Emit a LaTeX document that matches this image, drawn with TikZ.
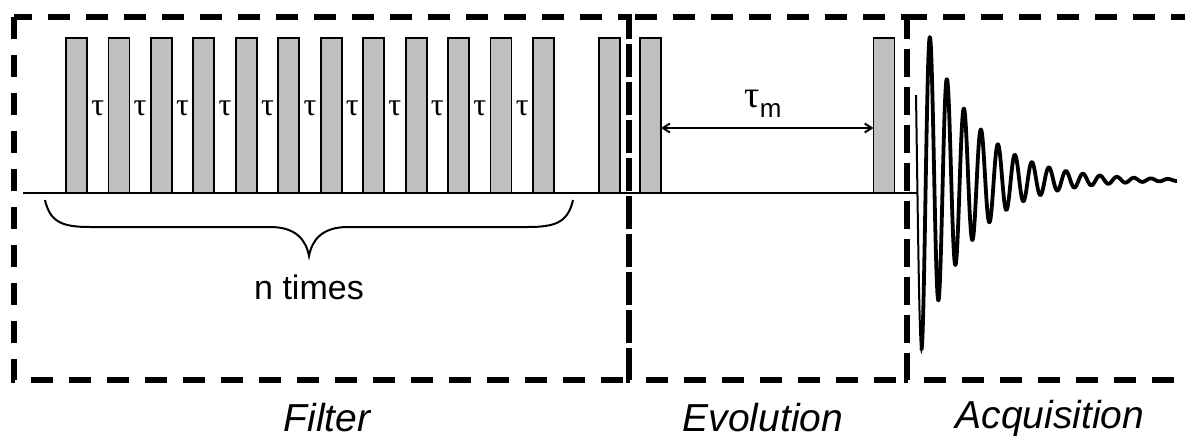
\documentclass[tikz,border=0pt]{standalone}
\usepackage{fontspec}
\setmainfont{Liberation Sans}
\newfontfamily\greekfont{Liberation Serif}
\usetikzlibrary{arrows.meta}
\tikzset{
  pulse/.style={draw=black, line width=1.8pt, fill=black!25, minimum width=21pt, minimum height=155pt, anchor=south, inner sep=0pt, outer sep=0pt},
  section/.style={line width=6pt, dash pattern=on 22pt off 16pt},
  baseline/.style={line width=2pt},
  taulabel/.style={font=\greekfont\fontsize{32}{32}\selectfont, inner sep=0pt},
  seclabel/.style={font=\itshape\fontsize{39}{39}\selectfont, inner sep=0pt},
  fid/.style={line width=3.8pt, line join=round},
}
\begin{document}
\begin{tikzpicture}[x=1pt,y=-1pt]
\useasboundingbox (0,0) rectangle (1185,441);
\clip (0,0) rectangle (1185,441);
% section boxes
\draw[section] (14,17) rectangle (629,380);
\draw[section] (629,17) rectangle (907,380);
\draw[section] (907,17) rectangle (1200,380);
% baseline
\coordinate (bl0) at (23,193);
\coordinate (bl1) at (917,193);
\draw[baseline] (bl0) -- (bl1);
% filter pulses
\foreach \i in {0,...,11}{
  \node[pulse] (p\i) at ({76.5+42.45*\i},193) {};
}
\foreach \i in {0,...,10}{
  \node[taulabel] (t\i) at ({97.7+42.45*\i},108) {τ};
}
\node[pulse] (p12) at (609.5,193) {};
\node[pulse] (p13) at (650.5,193) {};
\node[pulse] (p14) at (884,193) {};
% mixing time arrow
\draw[line width=2pt, {Straight Barb[length=7pt,width=9pt]}-{Straight Barb[length=7pt,width=9pt]}]
  (p13.east |- 0,128) -- (p14.west |- 0,128);
\node[inner sep=0pt] (tm) at (763,104) {{\greekfont\fontsize{38}{38}\selectfont τ}\raisebox{-10pt}{\fontsize{26}{26}\selectfont m}};
% brace
\draw[line width=2pt] (45,200) .. controls (50,222) and (62,227) .. (90,227)
  -- (270,227) .. controls (296,227) and (306,240) .. (309,256)
  .. controls (312,240) and (322,227) .. (348,227)
  -- (528,227) .. controls (556,227) and (568,222) .. (573,200);
\node[inner sep=0pt, font=\fontsize{34}{34}\selectfont] (nt) at (309,287) {n times};
% FID
\draw[line width=2pt] plot[domain=-14:-8, samples=20, smooth] ({930+\x}, {180 - 143*exp(-\x/49)*cos(21.17647*\x)});
\draw[fid] plot[domain=-8.5:247, samples=500, smooth] ({930+\x}, {180 - 143*exp(-\x/49)*cos(21.17647*\x)});
% section labels
\node[seclabel] (lf) at (327,418) {Filter};
\node[seclabel] (le) at (763,418) {Evolution};
\node[seclabel] (la) at (1050,418) {Acquisition};
\end{tikzpicture}
\end{document}
